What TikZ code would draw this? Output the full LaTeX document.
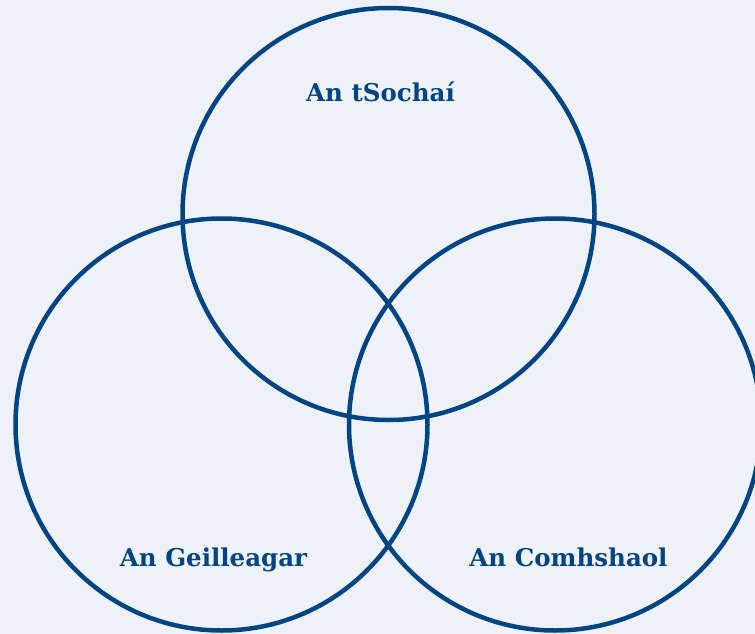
\documentclass[tikz,border=0pt]{standalone}
\usepackage{fontspec}
\setmainfont{DejaVu Serif}
\usepackage{xcolor}
\usepackage{tikz}
\usetikzlibrary{positioning, backgrounds}
\definecolor{ringblue}{HTML}{004582}
\definecolor{paper}{HTML}{EFF1F8}
\tikzset{
  %% One of the three overlapping rings
  ring/.style={
    circle, draw=ringblue, line width=4.5pt,
    minimum size=412pt, inner sep=0pt
  },
  %% Ring caption, placed by its baseline
  rlabel/.style={
    text=ringblue, font=\fontsize{24.5}{28}\selectfont\bfseries,
    inner sep=0pt, anchor=base
  },
}
\begin{document}
\begin{tikzpicture}[x=1pt, y=-1pt]

  \fill[paper] (0,0) rectangle (755,634);
  \useasboundingbox (0,0) rectangle (755,634);

  \node[ring] (soch) at (388.5,214) {};
  \node[ring] (geill) at (221.5,424.5) {};
  \node[ring] (comh) at (555,424.5) {};

  \node[rlabel] (sochlbl) at (380.5,101.5) {An tSochaí};
  \node[rlabel] (geilllbl) at (213.5,566.5) {An Geilleagar};
  \node[rlabel] (comhlbl) at (568.5,566.5) {An Comhshaol};

\end{tikzpicture}
\end{document}
